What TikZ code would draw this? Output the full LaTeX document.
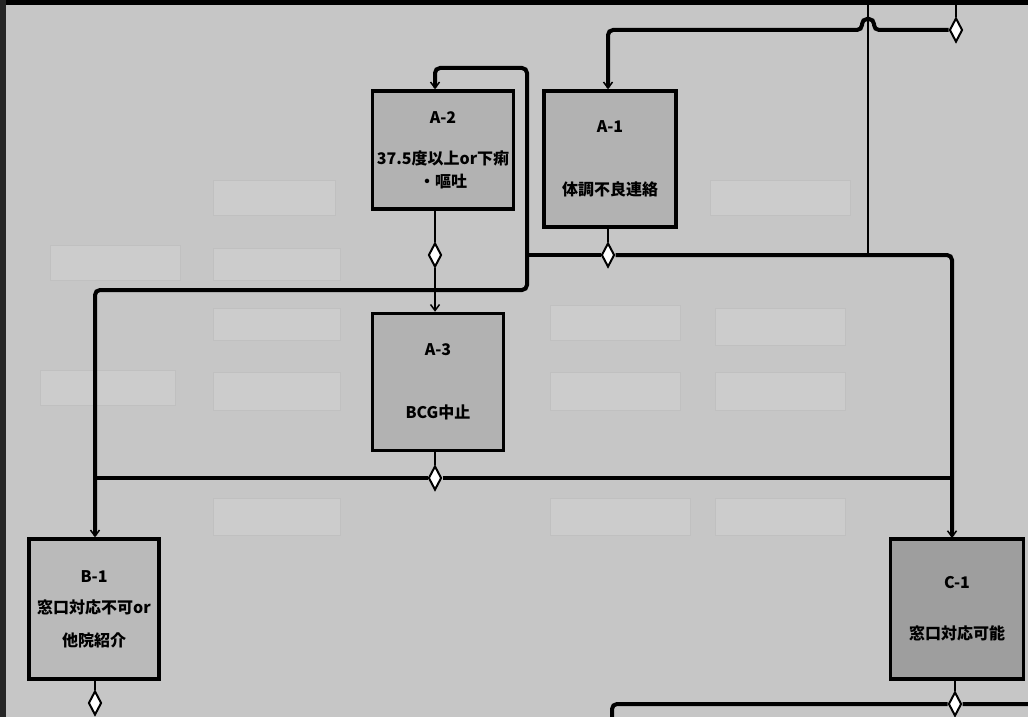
\documentclass[tikz,border=0pt]{standalone}
\usepackage{fontspec}
\newfontfamily\cjk{Noto Sans CJK JP}
\usetikzlibrary{shapes.geometric,arrows.meta}
\definecolor{bg}{HTML}{C6C6C6}
\definecolor{ghost}{HTML}{CCCCCC}
\definecolor{ghostline}{HTML}{C0C0C0}
\definecolor{boxA}{HTML}{B2B2B2}
\definecolor{boxB}{HTML}{BABABA}
\definecolor{boxC}{HTML}{9E9E9E}
\tikzset{
  flowbox/.style={draw=black, line width=3.5pt, fill=boxA, rectangle, inner sep=0pt,
    font=\cjk\bfseries\fontsize{16}{19}\selectfont, align=center},
  ghostbox/.style={draw=ghostline, line width=1pt, fill=ghost},
  port/.style={diamond, draw=black, fill=white, line width=2pt, minimum width=13pt,
    minimum height=24pt, inner sep=0pt, aspect=0.55},
  wire/.style={draw=black, line width=4pt, rounded corners=5pt},
  thinwire/.style={draw=black, line width=2.5pt, rounded corners=4pt},
  into/.style={-{Straight Barb[length=6pt,width=9pt,line width=1.5pt]}}
}
\begin{document}
\begin{tikzpicture}[x=1pt,y=-1pt]
\useasboundingbox (0,0) rectangle (1028,717);
\fill[bg] (0,0) rectangle (1028,717);
% frame edges
\fill[black] (0,0) rectangle (1028,5);
\fill[black!85] (0,0) rectangle (6,717);
% faint background boxes
\foreach \a/\b/\c/\d in {213/180/335/215, 50/245/180/280, 213/248/340/280, 213/308/340/340,
  40/370/175/405, 213/372/340/410, 550/305/680/340, 715/308/845/345, 550/372/680/410,
  715/372/845/410, 710/180/850/215, 213/498/340/535, 715/498/845/535, 550/498/690/535}
  {\path[ghostbox] (\a,\b) rectangle (\c,\d);}
% main boxes
\node[flowbox, minimum width=141pt, minimum height=118pt] (A2) at (443,150)
  {A-2\\[22pt]37.5度以上or下痢\\[4pt]・嘔吐};
\node[flowbox, minimum width=132pt, minimum height=136pt] (A1) at (610,159)
  {A-1\\[44pt]体調不良連絡};
\node[flowbox, minimum width=131pt, minimum height=137pt] (A3) at (438,382)
  {A-3\\[44pt]BCG中止};
\node[flowbox, fill=boxB, minimum width=130pt, minimum height=140pt] (B1) at (94,609)
  {B-1\\[12pt]窓口対応不可or\\[14pt]他院紹介};
\node[flowbox, fill=boxC, minimum width=133pt, minimum height=140pt] (C1) at (957,609)
  {C-1\\[32pt]窓口対応可能};
% ports
\node[port] (d0) at (956,30) {};
\node[port] (dA2) at (435,255) {};
\node[port] (dA1) at (608,255) {};
\node[port] (dA3) at (435,478) {};
\node[port] (dB1) at (95,703) {};
\node[port] (dC1) at (955,704) {};
\coordinate (top0) at (956,5);
\coordinate (vtop) at (868,5);
\coordinate (vjoin) at (868,255);
\coordinate (jx) at (527,255);
\coordinate (bot0) at (612,717);
\coordinate (bot1) at (1028,704);
% connectors
\draw[thinwire] (top0) -- (d0);
\draw[wire, into] (d0.west) -- (874,30) -- (874,19) -- (862,19) -- (862,30) -- (608,30) -- (dA1 |- A1.north);
\draw[thinwire] (vtop) -- (vjoin);
\draw[thinwire] (dA1 |- A1.south) -- (dA1);
\draw[thinwire] (dA2 |- A2.south) -- (dA2);
\draw[thinwire] (dA3 |- A3.south) -- (dA3);
\draw[thinwire] (dB1 |- B1.south) -- (dB1);
\draw[thinwire] (dC1 |- C1.south) -- (dC1);
\draw[wire, into] (dA1) -- (952,255) -- (952,479) -- (952,538);
\draw[wire] (dA1) -- (jx);
\draw[wire, into] (jx) -- (527,68) -- (435,68) -- (dA2 |- A2.north);
\draw[wire, into] (jx) -- (527,290) -- (95,290) -- (95,479) -- (dB1 |- B1.north);
\draw[thinwire, into] (dA2) -- (dA2 |- A3.north);
\draw[wire] (95,478) -- (dA3) -- (952,478);
\draw[wire] (bot0) -- (612,704) -- (dC1) -- (bot1);
\end{tikzpicture}
\end{document}
